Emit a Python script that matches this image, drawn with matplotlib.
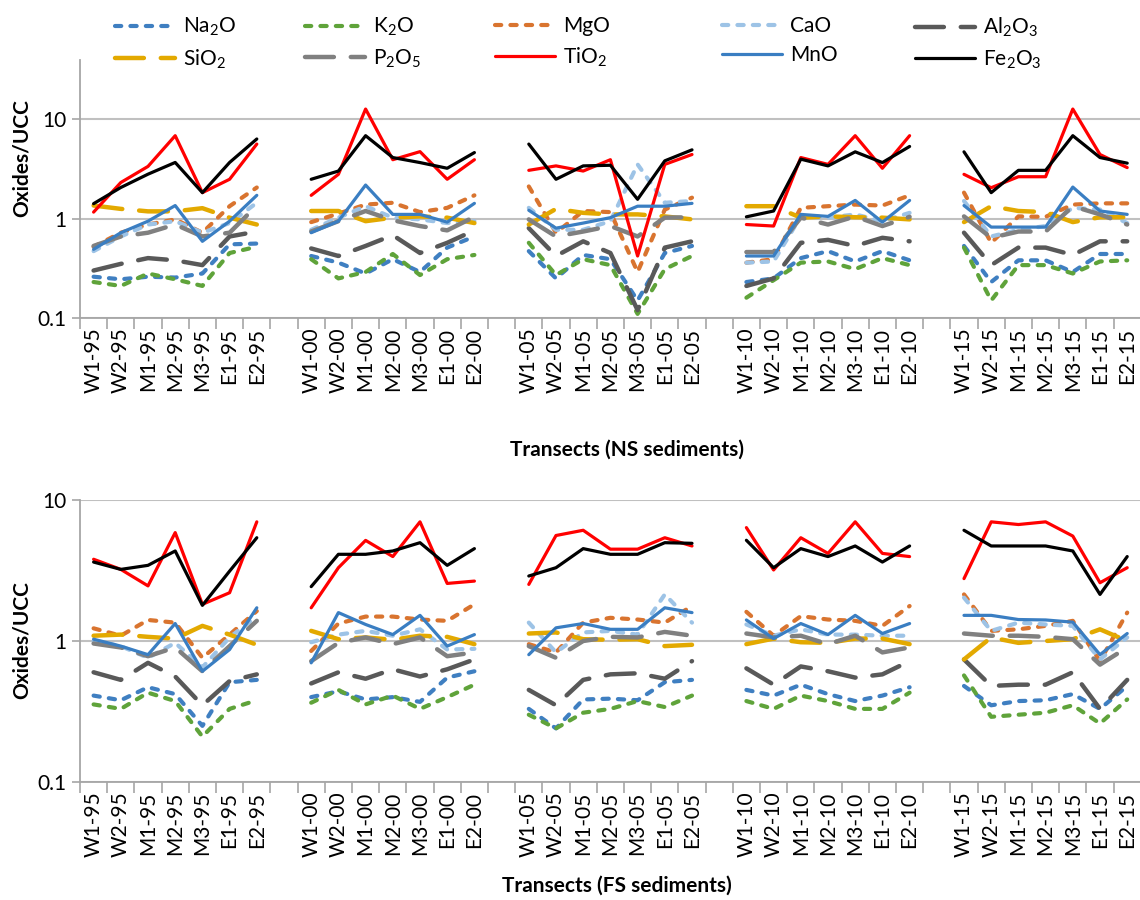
import numpy as np
import matplotlib.pyplot as plt
from matplotlib.lines import Line2D
from matplotlib.ticker import FixedLocator, FixedFormatter, NullLocator

plt.rcParams["font.family"] = ["Lato", "DejaVu Sans"]
plt.rcParams["mathtext.default"] = "regular"

# ── DATA (oxide / UCC ratios) ───────────────────────────────────────
years = ["95", "00", "05", "10", "15"]
sites = ["W1", "W2", "M1", "M2", "M3", "E1", "E2"]

oxides = ["Na2O", "K2O", "MgO", "CaO", "Al2O3", "SiO2", "P2O5", "TiO2", "MnO", "Fe2O3"]
oxide_labels = [r"$Na_2O$", r"$K_2O$", "MgO", "CaO", r"$Al_2O_3$",
                r"$SiO_2$", r"$P_2O_5$", r"$TiO_2$", "MnO", r"$Fe_2O_3$"]

# NS sediments (top panel), 5 transect years x 7 sites
ns_Na2O = [0.26, 0.245, 0.26, 0.255, 0.28, 0.55, 0.56,  0.42, 0.36, 0.28, 0.39, 0.29, 0.51, 0.66,
           0.47, 0.25, 0.43, 0.39, 0.15, 0.45, 0.53,  0.23, 0.25, 0.40, 0.47, 0.37, 0.47, 0.38,
           0.53, 0.23, 0.38, 0.38, 0.29, 0.44, 0.44]
ns_K2O = [0.23, 0.21, 0.28, 0.245, 0.21, 0.45, 0.52,  0.39, 0.25, 0.29, 0.44, 0.27, 0.39, 0.43,
          0.57, 0.27, 0.39, 0.34, 0.11, 0.31, 0.42,  0.16, 0.24, 0.36, 0.37, 0.31, 0.40, 0.34,
          0.51, 0.15, 0.34, 0.34, 0.28, 0.37, 0.38]
ns_MgO = [0.52, 0.72, 0.87, 0.98, 0.72, 1.33, 2.05,  0.92, 1.12, 1.38, 1.44, 1.16, 1.28, 1.71,
          2.10, 0.72, 1.19, 1.16, 0.29, 1.23, 1.62,  0.36, 0.39, 1.28, 1.33, 1.38, 1.35, 1.71,
          1.82, 0.57, 1.05, 1.04, 1.38, 1.42, 1.42]
ns_CaO = [0.47, 0.66, 0.87, 0.94, 0.72, 0.90, 1.44,  0.77, 1.02, 1.33, 1.02, 0.98, 0.90, 0.94,
          1.28, 0.77, 0.77, 0.94, 3.50, 1.44, 1.50,  0.36, 0.37, 1.05, 1.02, 1.10, 0.94, 1.14,
          1.50, 0.66, 0.77, 0.84, 1.28, 1.23, 0.90]
ns_Al2O3 = [0.30, 0.35, 0.40, 0.38, 0.34, 0.66, 0.74,  0.50, 0.42, 0.53, 0.68, 0.45, 0.57, 0.76,
            0.80, 0.42, 0.59, 0.45, 0.12, 0.51, 0.59,  0.21, 0.25, 0.57, 0.61, 0.53, 0.64, 0.59,
            0.72, 0.34, 0.51, 0.51, 0.43, 0.59, 0.59]
ns_SiO2 = [1.35, 1.25, 1.18, 1.18, 1.27, 1.02, 0.87,  1.19, 1.19, 0.94, 1.02, 1.05, 1.02, 0.90,
           0.87, 1.25, 1.14, 1.10, 1.10, 1.05, 0.98,  1.33, 1.33, 1.02, 1.05, 1.03, 1.02, 0.98,
           0.92, 1.33, 1.19, 1.16, 0.92, 1.03, 1.03]
ns_P2O5 = [0.53, 0.66, 0.72, 0.87, 0.66, 0.72, 1.35,  0.74, 0.94, 1.19, 0.96, 0.84, 0.76, 1.04,
           0.98, 0.66, 0.74, 0.84, 0.66, 1.02, 1.03,  0.46, 0.46, 1.02, 0.87, 1.05, 0.84, 1.04,
           1.05, 0.64, 0.74, 0.74, 1.33, 1.10, 0.87]
ns_TiO2 = [1.16, 2.30, 3.34, 6.80, 1.82, 2.48, 5.60,  1.71, 2.78, 12.6, 3.90, 4.70, 2.48, 3.90,
           3.05, 3.38, 3.00, 3.90, 0.42, 3.50, 4.40,  0.87, 0.84, 4.10, 3.50, 6.80, 3.20, 6.80,
           2.78, 2.04, 2.63, 2.63, 12.6, 4.40, 3.25]
ns_MnO = [0.49, 0.72, 0.94, 1.35, 0.59, 0.94, 1.71,  0.72, 0.94, 2.17, 1.10, 1.10, 0.92, 1.42,
          1.21, 0.80, 0.90, 1.02, 1.33, 1.33, 1.42,  0.42, 0.42, 1.10, 1.05, 1.52, 0.92, 1.52,
          1.35, 0.82, 0.82, 0.82, 2.07, 1.19, 1.10]
ns_Fe2O3 = [1.41, 2.05, 2.79, 3.66, 1.82, 3.66, 6.30,  2.48, 3.00, 6.80, 4.10, 3.65, 3.20, 4.60,
            5.60, 2.48, 3.38, 3.43, 1.56, 3.80, 4.90,  1.04, 1.19, 3.95, 3.38, 4.68, 3.65, 5.30,
            4.68, 1.82, 3.05, 3.05, 6.80, 4.10, 3.60]

# FS sediments (bottom panel)
fs_Na2O = [0.41, 0.38, 0.47, 0.42, 0.25, 0.51, 0.53,  0.40, 0.44, 0.385, 0.40, 0.37, 0.55, 0.61,
           0.33, 0.24, 0.385, 0.39, 0.38, 0.51, 0.53,  0.45, 0.41, 0.49, 0.42, 0.375, 0.41, 0.47,
           0.48, 0.35, 0.375, 0.38, 0.42, 0.33, 0.48]
fs_K2O = [0.355, 0.33, 0.43, 0.375, 0.21, 0.33, 0.38,  0.365, 0.45, 0.355, 0.41, 0.33, 0.40, 0.49,
          0.30, 0.24, 0.31, 0.33, 0.375, 0.34, 0.41,  0.375, 0.33, 0.41, 0.375, 0.33, 0.33, 0.43,
          0.57, 0.29, 0.30, 0.31, 0.35, 0.26, 0.385]
fs_MgO = [1.23, 1.09, 1.41, 1.35, 0.76, 1.11, 1.63,  0.85, 1.33, 1.49, 1.49, 1.42, 1.39, 1.82,
          0.95, 0.83, 1.35, 1.46, 1.42, 1.35, 1.77,  1.61, 1.09, 1.50, 1.42, 1.39, 1.28, 1.77,
          2.14, 1.18, 1.21, 1.28, 1.39, 0.72, 1.59]
fs_CaO = [1.00, 0.92, 0.76, 0.97, 0.65, 1.06, 1.50,  0.98, 1.11, 1.18, 1.09, 1.21, 0.87, 0.88,
          1.35, 0.83, 1.15, 1.18, 1.11, 2.14, 1.35,  1.31, 1.09, 1.21, 1.11, 1.11, 1.09, 1.09,
          2.03, 1.18, 1.35, 1.31, 1.28, 0.74, 1.06]
fs_Al2O3 = [0.60, 0.53, 0.70, 0.56, 0.35, 0.52, 0.58,  0.50, 0.60, 0.54, 0.63, 0.56, 0.63, 0.74,
            0.45, 0.35, 0.53, 0.58, 0.59, 0.54, 0.72,  0.64, 0.49, 0.66, 0.61, 0.55, 0.58, 0.72,
            0.74, 0.48, 0.49, 0.49, 0.60, 0.33, 0.53]
fs_SiO2 = [1.09, 1.11, 1.07, 1.04, 1.28, 1.11, 0.94,  1.18, 1.03, 1.06, 1.02, 1.09, 1.07, 0.95,
           1.13, 1.15, 1.03, 1.02, 1.03, 0.92, 0.94,  0.95, 1.04, 0.98, 0.97, 1.04, 1.04, 0.95,
           0.74, 1.06, 0.97, 1.00, 1.03, 1.21, 1.00]
fs_P2O5 = [0.96, 0.90, 0.78, 0.90, 0.61, 0.92, 1.39,  0.72, 0.97, 1.06, 0.95, 1.06, 0.78, 0.83,
           0.92, 0.76, 1.00, 1.07, 1.06, 1.16, 1.09,  1.13, 1.06, 1.09, 0.95, 1.09, 0.83, 0.90,
           1.13, 1.09, 1.09, 1.07, 1.03, 0.68, 0.90]
fs_TiO2 = [3.80, 3.22, 2.46, 5.87, 1.82, 2.20, 7.00,  1.72, 3.31, 5.17, 3.97, 7.00, 2.56, 2.66,
           2.52, 5.60, 6.10, 4.48, 4.48, 5.40, 4.72,  6.37, 3.19, 5.40, 4.18, 7.00, 4.18, 3.97,
           2.77, 7.00, 6.70, 7.00, 5.55, 2.59, 3.31]
fs_MnO = [1.03, 0.92, 0.80, 1.33, 0.61, 0.87, 1.72,  0.70, 1.59, 1.31, 1.11, 1.52, 0.92, 1.11,
          0.80, 1.24, 1.33, 1.21, 1.21, 1.72, 1.59,  1.41, 1.04, 1.33, 1.11, 1.52, 1.13, 1.33,
          1.52, 1.52, 1.42, 1.41, 1.36, 0.80, 1.13]
fs_Fe2O3 = [3.63, 3.22, 3.44, 4.35, 1.79, 3.13, 5.40,  2.43, 4.12, 4.12, 4.35, 4.98, 3.44, 4.52,
            2.89, 3.31, 4.52, 4.12, 4.12, 4.98, 4.93,  5.18, 3.31, 4.52, 3.97, 4.72, 3.63, 4.72,
            6.10, 4.72, 4.72, 4.72, 4.35, 2.14, 3.97]

ns_data = [ns_Na2O, ns_K2O, ns_MgO, ns_CaO, ns_Al2O3, ns_SiO2, ns_P2O5, ns_TiO2, ns_MnO, ns_Fe2O3]
fs_data = [fs_Na2O, fs_K2O, fs_MgO, fs_CaO, fs_Al2O3, fs_SiO2, fs_P2O5, fs_TiO2, fs_MnO, fs_Fe2O3]
# ────────────────────────────────────────────────────────────────────

colors = ["#3F7FC1", "#5FA33A", "#D9742F", "#9DC3E6", "#595959",
          "#E3A900", "#808080", "#FF0000", "#3A7EC2", "#000000"]
kinds = ["dash", "dash", "dash", "dash", "long", "long", "long", "solid", "solid", "solid"]

GRID = "#C0C0C0"
AXIS = "#A6A6A6"
FS = 15
CAT_W = 27.2   # px per category


def with_gaps(vals):
    """Insert an empty category between the transect years."""
    out = []
    for g in range(len(years)):
        out += list(vals[g * 7:(g + 1) * 7])
        if g < len(years) - 1:
            out.append(np.nan)
    return np.array(out, dtype=float)


def line_style(kind):
    if kind == "dash":
        return dict(lw=3.0, dashes=(1.5, 2.2), dash_capstyle="round")
    if kind == "long":
        return dict(lw=3.2, dashes=(6.5, 3.8), dash_capstyle="round")
    return dict(lw=2.3, solid_capstyle="round")


tick_labels = []
for g, yr in enumerate(years):
    tick_labels += [f"{s}-{yr}" for s in sites]
    if g < len(years) - 1:
        tick_labels.append("")
x = np.arange(len(tick_labels))


def draw_panel(ax, data, ymax):
    for vals, col, kind in zip(data, colors, kinds):
        ax.plot(x, with_gaps(vals), color=col, **line_style(kind))
    ax.set_yscale("log")
    ax.set_ylim(0.1, ymax)
    ax.set_xlim(-0.5, len(x) - 0.5)
    ax.yaxis.set_major_locator(FixedLocator([0.1, 1, 10]))
    ax.yaxis.set_major_formatter(FixedFormatter(["0.1", "1", "10"]))
    ax.yaxis.set_minor_locator(NullLocator())
    ax.set_xticks(x)
    ax.set_xticklabels(tick_labels, rotation=90, fontsize=FS)
    ax.set_xticks(np.arange(-0.5, len(x)), minor=True)
    ax.tick_params(axis="x", which="major", length=0, pad=7)
    ax.tick_params(axis="x", which="minor", length=8, width=1.2, color=AXIS)
    ax.tick_params(axis="y", length=6, width=1.2, color=AXIS, labelsize=FS, pad=4)
    ax.grid(axis="y", which="major", color=GRID, lw=1.5, zorder=0)
    ax.set_axisbelow(True)
    for side in ["top", "right"]:
        ax.spines[side].set_visible(False)
    for side in ["left", "bottom"]:
        ax.spines[side].set_color(AXIS)
        ax.spines[side].set_linewidth(1.3)


fig = plt.figure(figsize=(11.4, 9), dpi=100)
W, H = 1140, 900
ax_w = len(x) * CAT_W / W

ax_top = fig.add_axes([80 / W, 1 - 318 / H, ax_w, 258 / H])
draw_panel(ax_top, ns_data, 39.2)
ax_bot = fig.add_axes([80 / W, 1 - 782 / H, ax_w, 282 / H])
draw_panel(ax_bot, fs_data, 10)

fig.text(22 / W, 1 - 158 / H, "Oxides/UCC", rotation=90, ha="center", va="center",
         fontsize=FS, fontweight="bold")
fig.text(22 / W, 1 - 640 / H, "Oxides/UCC", rotation=90, ha="center", va="center",
         fontsize=FS, fontweight="bold")
fig.text(627 / W, 1 - 450 / H, "Transects (NS sediments)", ha="center", va="center",
         fontsize=FS, fontweight="bold")
fig.text(617 / W, 1 - 886 / H, "Transects (FS sediments)", ha="center", va="center",
         fontsize=FS, fontweight="bold")

# legend: 5 columns x 2 rows, laid out row by row like the original
handles = [Line2D([], [], color=c, **line_style(k)) for c, k in zip(colors, kinds)]
col_x = [115, 305, 495, 722, 915]
for j, cx in enumerate(col_x):
    idx = [j, j + 5]
    fig.legend([handles[i] for i in idx], [oxide_labels[i] for i in idx],
               loc="upper left", bbox_to_anchor=(cx / W, 1 - 16 / H), frameon=False,
               fontsize=FS, handlelength=2.9, handletextpad=0.35, labelspacing=0.45,
               borderpad=0, borderaxespad=0)

fig.savefig("out.png", dpi=100)
